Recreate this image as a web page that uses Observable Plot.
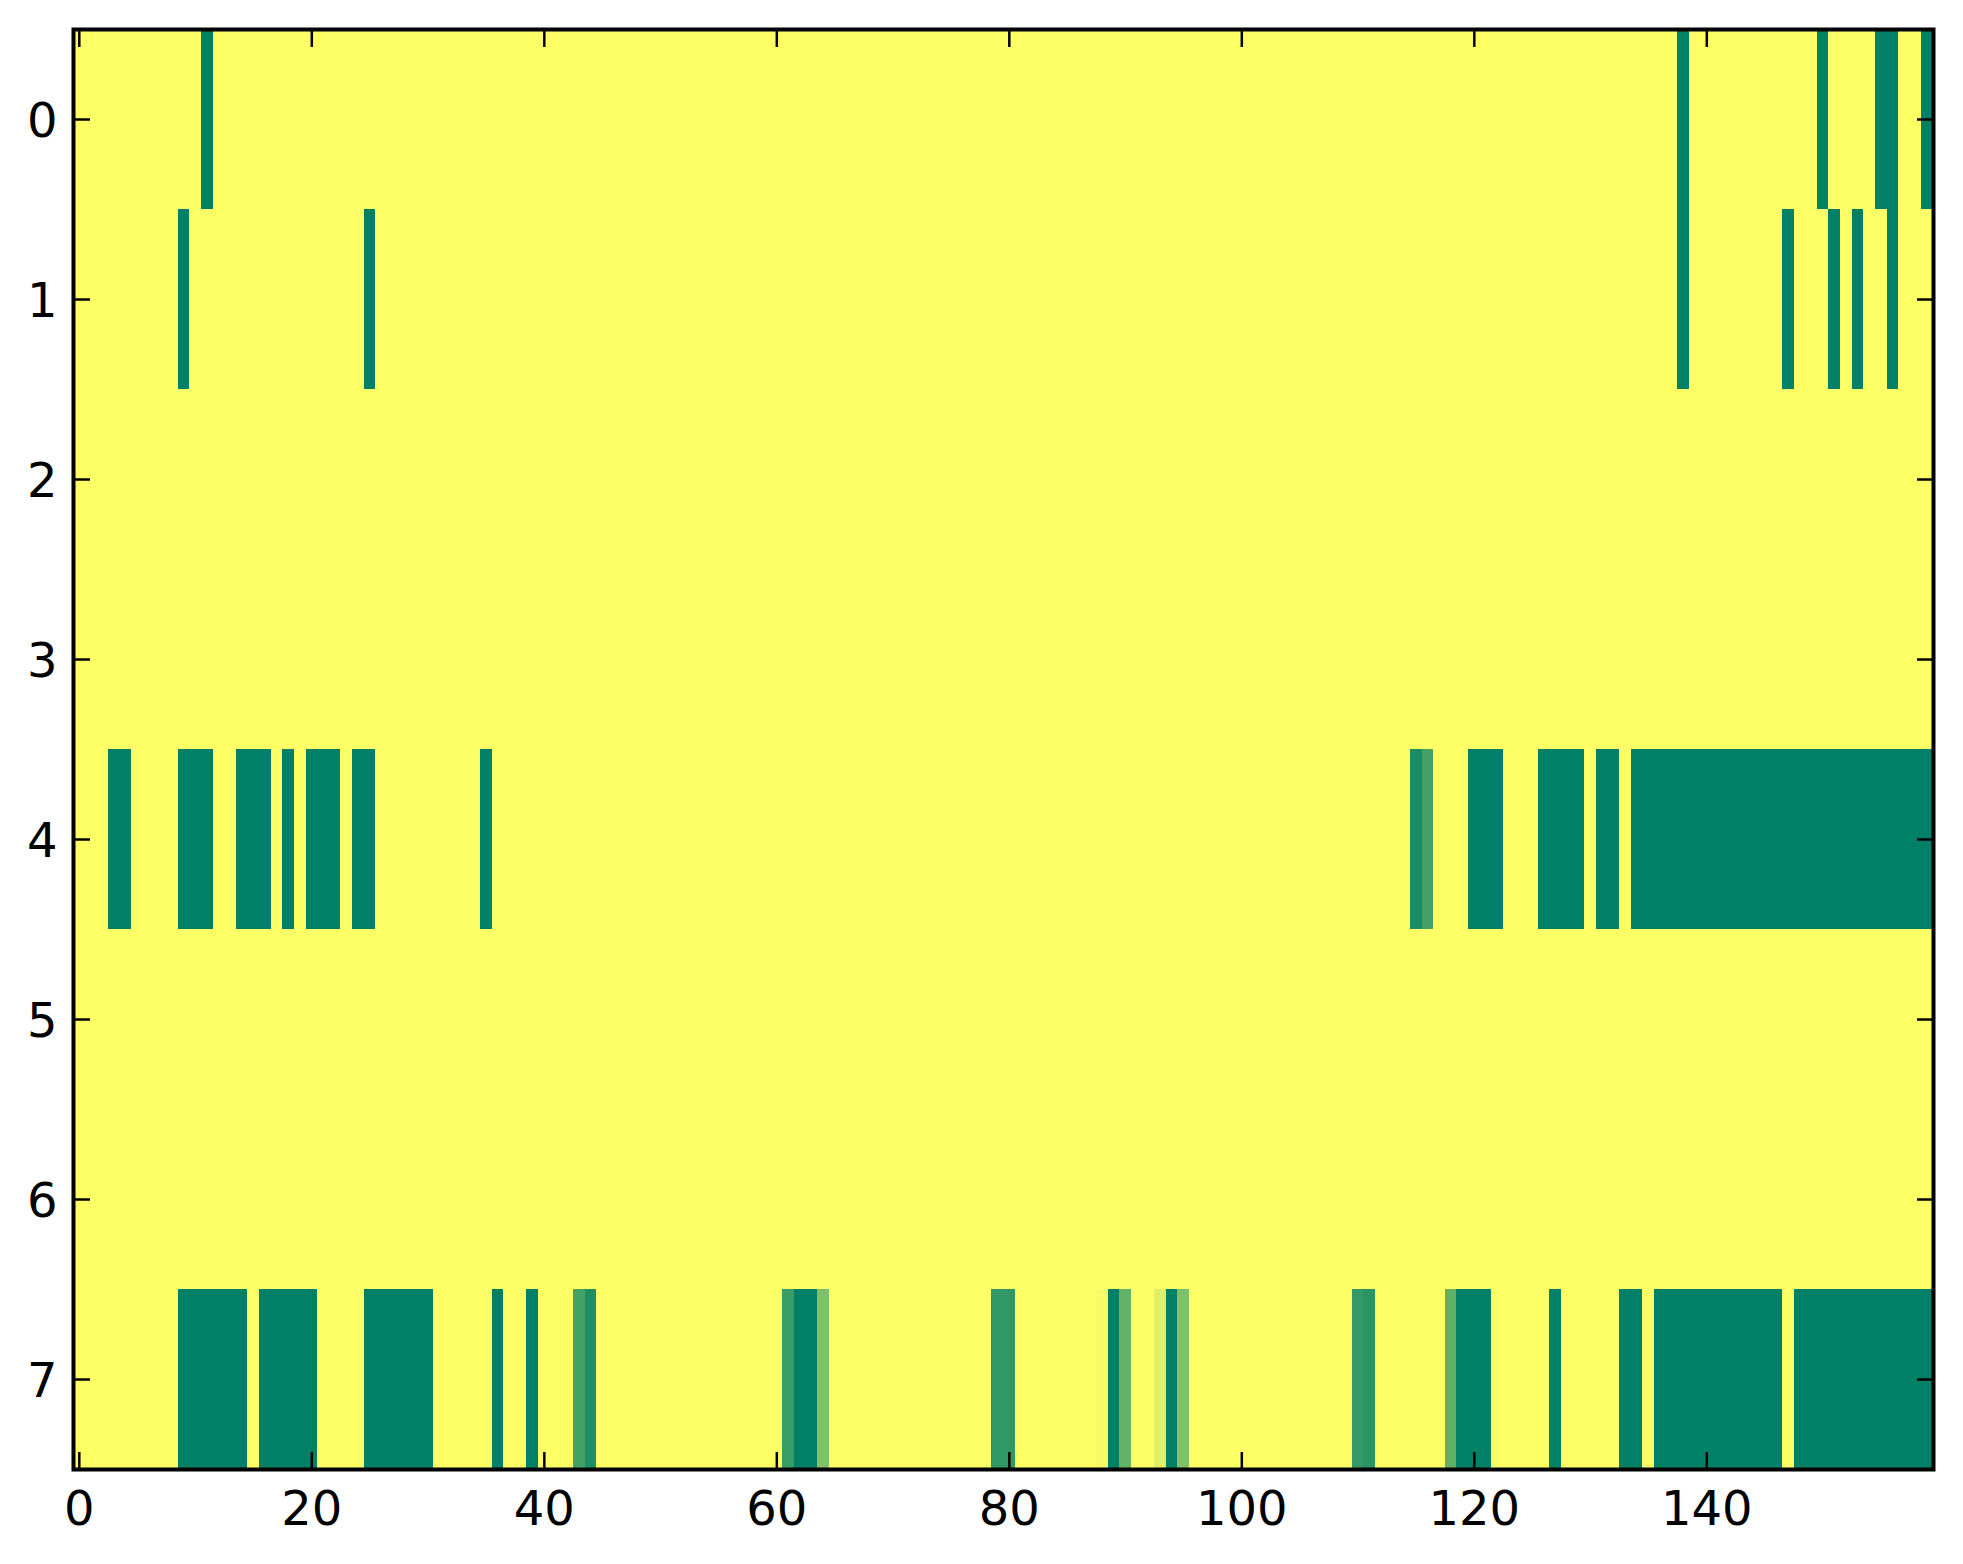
<!DOCTYPE html>
<html><head><meta charset="utf-8">
<script src="https://cdn.jsdelivr.net/npm/d3@7"></script>
<script src="https://cdn.jsdelivr.net/npm/@observablehq/plot@0.6"></script>
<style>html,body{margin:0;padding:0;background:#fff}</style>
</head><body><div id="chart"></div>
<script>
const nCols = 160;
const rowIds = [0, 1, 2, 3, 4, 5, 6, 7];
const xTicks = [0, 20, 40, 60, 80, 100, 120, 140];
const yTicks = [0, 1, 2, 3, 4, 5, 6, 7];

// Cells that are not at value 1.0 (yellow), as [column, value]; every other cell is 1.0
const row0 = [[11,0],[138,0],[150,0],[155,0],[156,0],[159,0]];
const row1 = [[9,0],[25,0],[138,0],[147,0],[151,0],[153,0],[156,0]];
const row2 = [];
const row3 = [];
const row4 = [[3,0],[4,0],[9,0],[10,0],[11,0],[14,0],[15,0],[16,0],[18,0],[20,0],[21,0],[22,0],[24,0],[25,0],[35,0],
  [115,0.1],[116,0.27],[120,0],[121,0],[122,0],[126,0],[127,0],[128,0],[129,0],[131,0],[132,0],
  [134,0],[135,0],[136,0],[137,0],[138,0],[139,0],[140,0],[141,0],[142,0],[143,0],[144,0],[145,0],[146,0],
  [147,0],[148,0],[149,0],[150,0],[151,0],[152,0],[153,0],[154,0],[155,0],[156,0],[157,0],[158,0],[159,0]];
const row5 = [];
const row6 = [];
const row7 = [[9,0],[10,0],[11,0],[12,0],[13,0],[14,0],[16,0],[17,0],[18,0],[19,0],[20,0],
  [25,0],[26,0],[27,0],[28,0],[29,0],[30,0],[36,0],[39,0],[43,0.27],[44,0.12],
  [61,0.23],[62,0],[63,0],[64,0.5],[79,0.19],[80,0.19],[88,0.97],[89,0],[90,0.39],
  [93,0.88],[94,0],[95,0.5],[110,0.2],[111,0.16],[118,0.38],[119,0],[120,0],[121,0],[127,0],
  [133,0],[134,0],[136,0],[137,0],[138,0],[139,0],[140,0],[141,0],[142,0],[143,0],[144,0],[145,0],[146,0],
  [148,0],[149,0],[150,0],[151,0],[152,0],[153,0],[154,0],[155,0],[156,0],[157,0],[158,0],[159,0]];

const rowsData = [row0, row1, row2, row3, row4, row5, row6, row7];
const cells = [];
rowIds.forEach(r => {
  const m = new Map(rowsData[r]);
  for (let c = 0; c < nCols; c++) cells.push({row: r, col: c, v: m.has(c) ? m.get(c) : 1});
});

const tickStyle = {tickSize: -17, tickFormat: () => "", strokeWidth: 2.5, stroke: "black"};

const chart = Plot.plot({
  width: 1963, height: 1564,
  marginLeft: 73, marginRight: 30, marginTop: 29, marginBottom: 95,
  x: {domain: [-0.5, 159.5]},
  y: {domain: [-0.5, 7.5], reverse: true},
  color: {type: "linear", domain: [0, 1], range: ["#008066", "#ffff66"], interpolate: "rgb"},
  style: {fontFamily: "DejaVu Sans", fontSize: "48px", background: "white", color: "black"},
  marks: [
    Plot.rect(cells, {x1: d => d.col - 0.5, x2: d => d.col + 0.5, y1: d => d.row - 0.5, y2: d => d.row + 0.5,
      fill: "v", shapeRendering: "crispEdges"}),
    Plot.axisX({anchor: "bottom", ticks: xTicks, ...tickStyle}),
    Plot.axisX({anchor: "top", ticks: xTicks, ...tickStyle}),
    Plot.axisY({anchor: "left", ticks: yTicks, ...tickStyle}),
    Plot.axisY({anchor: "right", ticks: yTicks, ...tickStyle}),
    Plot.frame({stroke: "black", strokeWidth: 4}),
    Plot.text(xTicks, {x: d => d, y: 7.5, dy: 40, text: d => String(d), fontSize: 48, fill: "black"}),
    Plot.text(yTicks, {x: -0.5, y: d => d, dx: -16, dy: 2, text: d => String(d), textAnchor: "end", fontSize: 48, fill: "black"})
  ]
});
document.getElementById("chart").appendChild(chart);
</script>
</body></html>
